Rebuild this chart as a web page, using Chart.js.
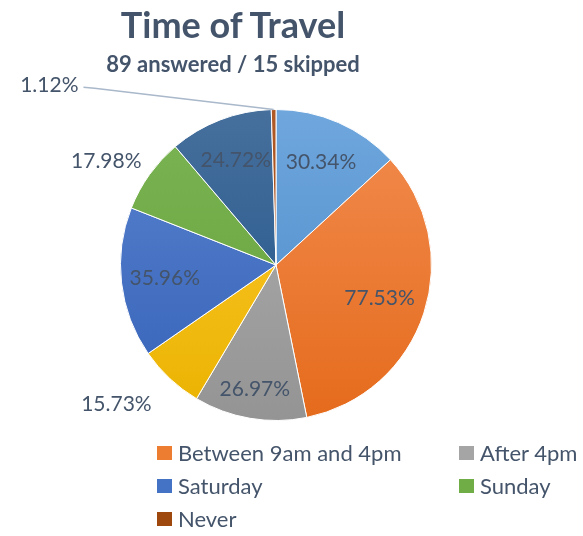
<!DOCTYPE html>
<html>
<head>
<meta charset="utf-8">
<script src="https://cdn.jsdelivr.net/npm/chart.js"></script>
<style>
  body { margin: 0; background: #fff; }
  #wrap { position: relative; width: 583px; height: 536px; font-family: Lato, sans-serif; color: #44546a; }
  #c { position: absolute; left: 0; top: 0; }
  .title { position: absolute; left: 0; width: 466px; text-align: center; font-weight: bold; white-space: nowrap; }
  #t1 { top: 6px; font-size: 36px; line-height: 36px; }
  #t2 { top: 53px; font-size: 22px; line-height: 22px; }
  .leg { position: absolute; display: flex; align-items: center; font-size: 22px; line-height: 22px; white-space: nowrap; }
  .leg i { display: inline-block; width: 15px; height: 14px; margin-right: 6px; }
</style>
</head>
<body>
<div id="wrap">
  <canvas id="c" width="583" height="536"></canvas>
  <div class="title" id="t1">Time of Travel</div>
  <div class="title" id="t2">89 answered / 15 skipped</div>
  <div id="legend"></div>
</div>
<script>
const categories = ['Before 9am', 'Between 9am and 4pm', 'After 4pm', 'Weekdays', 'Saturday', 'Sunday', 'Any time', 'Never'];
const percentages = [30.34, 77.53, 26.97, 15.73, 35.96, 17.98, 24.72, 1.12];
const legendShown = ['Between 9am and 4pm', 'After 4pm', 'Saturday', 'Sunday', 'Never'];

// top / bottom gradient colours per slice
const fills = [
  ['#6fa7dd', '#4a88c8'],
  ['#f28c50', '#e56b1c'],
  ['#b0b0b0', '#949494'],
  ['#ffc933', '#eab300'],
  ['#5a83cf', '#3562b8'],
  ['#7cb554', '#62a03a'],
  ['#466f9c', '#1f5489'],
  ['#b05a28', '#9a4210']
];
const swatch = ['#5b9bd5', '#ed7d31', '#a5a5a5', '#ffc000', '#4472c4', '#70ad47', '#255e91', '#9e480e'];

// label placement: r = fraction of radius, a = angle in degrees from top (default: slice middle)
const labelPlace = [
  { r: 0.72 }, { r: 0.70 }, { r: 0.81 }, { r: 1.36, a: 229 },
  { r: 0.72 }, { r: 1.28, a: 301.5 }, { r: 0.72 }, { r: 1.86, a: 308.4, leader: true }
];

const labelPlugin = {
  id: 'pctLabels',
  afterDatasetsDraw(chart) {
    const ctx = chart.ctx;
    const meta = chart.getDatasetMeta(0);
    ctx.save();
    ctx.font = '21px Lato';
    ctx.fillStyle = '#44546a';
    ctx.textAlign = 'center';
    ctx.textBaseline = 'middle';
    meta.data.forEach((arc, i) => {
      const p = labelPlace[i];
      const mid = (arc.startAngle + arc.endAngle) / 2;
      const ang = p.a !== undefined ? (p.a - 90) * Math.PI / 180 : mid;
      const x = arc.x + Math.cos(ang) * arc.outerRadius * p.r;
      const y = arc.y + Math.sin(ang) * arc.outerRadius * p.r;
      const txt = percentages[i].toFixed(2) + '%';
      ctx.fillText(txt, x, y);
      if (p.leader) {
        const w = ctx.measureText(txt).width;
        const sx = x + w / 2 + 5;
        ctx.strokeStyle = '#a9b8ca';
        ctx.lineWidth = 1.5;
        ctx.beginPath();
        ctx.moveTo(sx, y + 2);
        ctx.lineTo(sx + 11, y + 3);
        ctx.lineTo(arc.x + Math.cos(mid) * arc.outerRadius, arc.y + Math.sin(mid) * arc.outerRadius);
        ctx.stroke();
      }
    });
    ctx.restore();
  }
};

new Chart(document.getElementById('c'), {
  type: 'pie',
  data: {
    labels: categories,
    datasets: [{
      data: percentages,
      backgroundColor: (c) => {
        const area = c.chart.chartArea;
        if (!area) return swatch[c.dataIndex];
        const g = c.chart.ctx.createLinearGradient(0, area.top, 0, area.bottom);
        g.addColorStop(0, fills[c.dataIndex][0]);
        g.addColorStop(1, fills[c.dataIndex][1]);
        return g;
      },
      borderColor: '#ffffff',
      borderWidth: 1
    }]
  },
  options: {
    responsive: false,
    animation: false,
    layout: { padding: { left: 120, right: 151, top: 109, bottom: 115 } },
    plugins: { legend: { display: false }, tooltip: { enabled: false } }
  },
  plugins: [labelPlugin]
});

// legend, two columns
const legend = document.getElementById('legend');
legendShown.forEach((name, k) => {
  const idx = categories.indexOf(name);
  const d = document.createElement('div');
  d.className = 'leg';
  d.style.left = (k % 2 === 0 ? 157 : 459) + 'px';
  d.style.top = (442 + Math.floor(k / 2) * 33) + 'px';
  d.innerHTML = '<i style="background:' + swatch[idx] + '"></i>' + name;
  legend.appendChild(d);
});
</script>
</body>
</html>
